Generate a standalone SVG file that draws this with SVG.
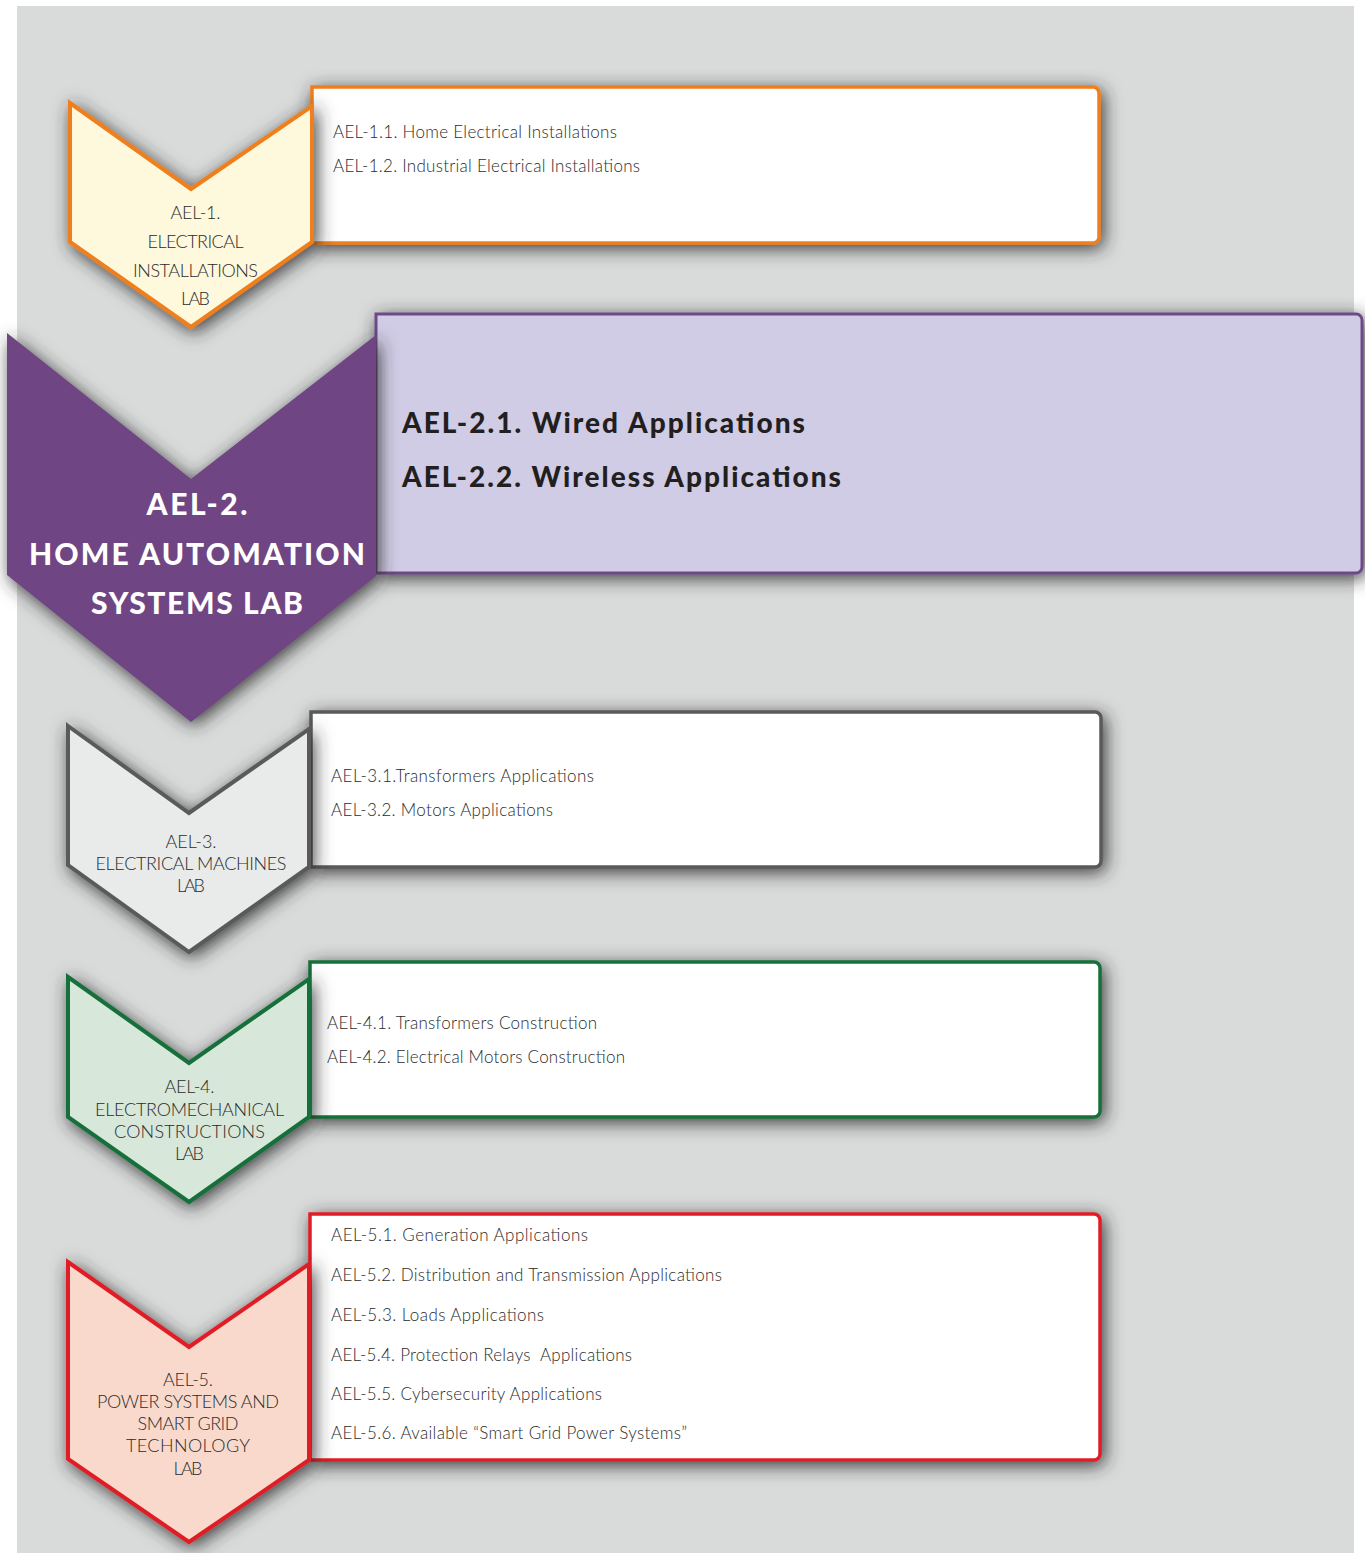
<svg xmlns="http://www.w3.org/2000/svg" width="1365" height="1553" viewBox="0 0 1365 1553">
<defs>
<filter id="sh" x="-20%" y="-25%" width="140%" height="150%">
<feGaussianBlur in="SourceAlpha" stdDeviation="9"/>
<feOffset dx="3" dy="4" result="b"/>
<feFlood flood-color="#2a2a2a" flood-opacity="0.9"/>
<feComposite in2="b" operator="in" result="s"/>
<feMerge><feMergeNode in="s"/><feMergeNode in="SourceGraphic"/></feMerge>
</filter>
<style>
.lt{font-family:Lato,"Open Sans","Liberation Sans",sans-serif;font-weight:300;font-size:17px;fill:#2b2b2b}
.lc{font-family:Lato,"Open Sans","Liberation Sans",sans-serif;font-weight:300;font-size:18px;fill:#2b2b2b;text-anchor:middle}
.bd{font-family:Lato,"Open Sans","Liberation Sans",sans-serif;font-weight:900;font-size:28px;fill:#231f20}
.bw{font-family:Lato,"Open Sans","Liberation Sans",sans-serif;font-weight:900;font-size:30px;fill:#ffffff;text-anchor:middle}
.box{fill:#ffffff;stroke-width:3.5}
.chev{stroke-width:4;stroke-linejoin:miter}
</style>
</defs>
<rect x="0" y="0" width="1365" height="1553" fill="#ffffff"/>
<rect x="17" y="6" width="1337" height="1547" fill="#d9dbda"/>

<g id="connectors"></g>

<g id="ael1">
<path class="box" d="M312,87 H1093 a6,6 0 0 1 6,6 V237 a6,6 0 0 1 -6,6 H312 Z" stroke="#ef7f1a" filter="url(#sh)"/>
<polygon class="chev" points="70,103 191,189 312,106 312,242 191,327 70,242" fill="#fef8dc" stroke="#ef7f1a" filter="url(#sh)"/>
<text class="lt" x="333" y="137.5" textLength="284">AEL-1.1. Home Electrical Installations</text>
<text class="lt" x="333" y="171.5" textLength="307">AEL-1.2. Industrial Electrical Installations</text>
<text class="lc" x="195.5" y="219" textLength="50">AEL-1.</text>
<text class="lc" x="195.5" y="248" textLength="96">ELECTRICAL</text>
<text class="lc" x="195.5" y="277" textLength="125">INSTALLATIONS</text>
<text class="lc" x="195.5" y="305" textLength="29">LAB</text>
</g>

<g id="ael2">
<path d="M376,314 H1356 a6,6 0 0 1 6,6 V567 a6,6 0 0 1 -6,6 H376 Z" fill="#d0cce6" stroke="#6d4a87" stroke-width="3" filter="url(#sh)"/>
<polygon points="7,333 191,479 376,335 376,576 191,722 7,575" fill="#6f4583" filter="url(#sh)"/>
<text class="bd" x="402" y="433" textLength="403">AEL-2.1. Wired Applications</text>
<text class="bd" x="402" y="487" textLength="439">AEL-2.2. Wireless Applications</text>
<text class="bw" x="197" y="515" textLength="101">AEL-2.</text>
<text class="bw" x="197" y="565" textLength="336">HOME AUTOMATION</text>
<text class="bw" x="197" y="614" textLength="212">SYSTEMS LAB</text>
</g>

<g id="ael3">
<path class="box" d="M311,712 H1095 a6,6 0 0 1 6,6 V861 a6,6 0 0 1 -6,6 H311 Z" stroke="#5a5a5a" filter="url(#sh)"/>
<polygon class="chev" points="68,726 189,813 309,729 309,867 189,952 68,865" fill="#e9eaea" stroke="#5a5a5a" filter="url(#sh)"/>
<text class="lt" x="331" y="782" textLength="263">AEL-3.1.Transformers Applications</text>
<text class="lt" x="331" y="816" textLength="222">AEL-3.2. Motors Applications</text>
<text class="lc" x="191" y="848" textLength="51">AEL-3.</text>
<text class="lc" x="191" y="870" textLength="191">ELECTRICAL MACHINES</text>
<text class="lc" x="191" y="892" textLength="28">LAB</text>
</g>

<g id="ael4">
<path class="box" d="M310,962 H1094 a6,6 0 0 1 6,6 V1111 a6,6 0 0 1 -6,6 H310 Z" stroke="#17703a" filter="url(#sh)"/>
<polygon class="chev" points="68,977 189,1063 309,979 309,1117 189,1202 68,1117" fill="#d7e7d9" stroke="#17703a" filter="url(#sh)"/>
<text class="lt" x="327" y="1029" textLength="270">AEL-4.1. Transformers Construction</text>
<text class="lt" x="327" y="1062.5" textLength="298">AEL-4.2. Electrical Motors Construction</text>
<text class="lc" x="189.5" y="1093" textLength="50">AEL-4.</text>
<text class="lc" x="189.5" y="1116" textLength="189">ELECTROMECHANICAL</text>
<text class="lc" x="189.5" y="1138" textLength="151">CONSTRUCTIONS</text>
<text class="lc" x="189.5" y="1160" textLength="29">LAB</text>
</g>

<g id="ael5">
<path class="box" d="M310,1214 H1094 a6,6 0 0 1 6,6 V1454 a6,6 0 0 1 -6,6 H310 Z" stroke="#e01f26" filter="url(#sh)"/>
<polygon class="chev" points="68,1262 189,1347 309,1264 309,1460 189,1542 68,1459" fill="#f9d9cb" stroke="#e01f26" filter="url(#sh)"/>
<text class="lt" x="331" y="1241" textLength="257">AEL-5.1. Generation Applications</text>
<text class="lt" x="331" y="1281" textLength="391">AEL-5.2. Distribution and Transmission Applications</text>
<text class="lt" x="331" y="1321" textLength="213">AEL-5.3. Loads Applications</text>
<text class="lt" x="331" y="1361" textLength="301" xml:space="preserve">AEL-5.4. Protection Relays  Applications</text>
<text class="lt" x="331" y="1400" textLength="271">AEL-5.5. Cybersecurity Applications</text>
<text class="lt" x="331" y="1439" textLength="356">AEL-5.6. Available “Smart Grid Power Systems”</text>
<text class="lc" x="188" y="1386" textLength="50">AEL-5.</text>
<text class="lc" x="188" y="1407.5" textLength="182">POWER SYSTEMS AND</text>
<text class="lc" x="188" y="1430" textLength="101">SMART GRID</text>
<text class="lc" x="188" y="1452" textLength="124">TECHNOLOGY</text>
<text class="lc" x="188" y="1475" textLength="29">LAB</text>
</g>
</svg>
